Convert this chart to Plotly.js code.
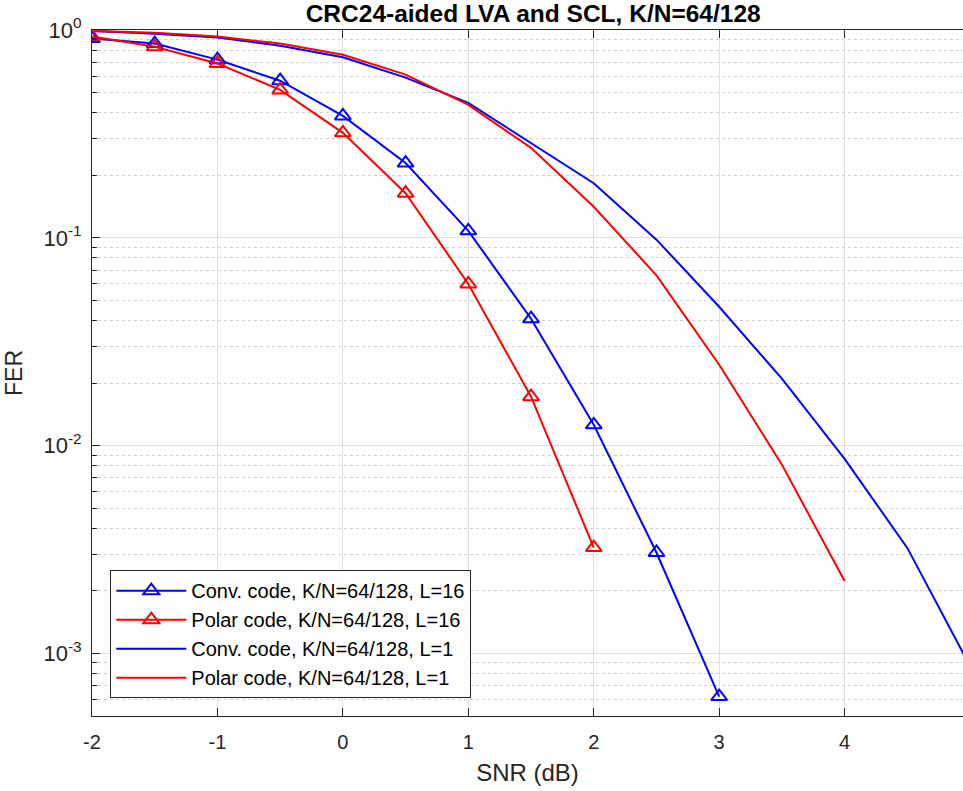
<!DOCTYPE html>
<html>
<head>
<meta charset="utf-8">
<script src="https://cdn.plot.ly/plotly-3.0.1.min.js"></script>
<style>html,body{margin:0;padding:0;background:#fff;}</style>
</head>
<body>
<div id="chart" style="width:963px;height:791px;"></div>
<script>
const snr = [-2, -1.5, -1, -0.5, 0, 0.5, 1, 1.5, 2, 2.5, 3, 3.5, 4, 4.5, 5];

const convL16 = [0.91, 0.86, 0.72, 0.57, 0.386, 0.229, 0.108, 0.0408, 0.0126, 0.00306, 0.00062];
const polarL16 = [0.93, 0.83, 0.69, 0.515, 0.32, 0.164, 0.060, 0.0172, 0.00323];
const convL1 = [0.99, 0.96, 0.92, 0.84, 0.74, 0.59, 0.446, 0.286, 0.183, 0.098, 0.0466, 0.021, 0.00863, 0.00322, 0.00087];
const polarL1 = [0.99, 0.97, 0.93, 0.86, 0.76, 0.61, 0.436, 0.271, 0.141, 0.066, 0.0245, 0.0081, 0.00223];

const names = [
  'Conv. code, K/N=64/128, L=16',
  'Polar code, K/N=64/128, L=16',
  'Conv. code, K/N=64/128, L=1',
  'Polar code, K/N=64/128, L=1'
];
const yTickVals = [1, 0.1, 0.01, 0.001];
const yTickText = ['10<sup>0</sup>', '10<sup>-1</sup>', '10<sup>-2</sup>', '10<sup>-3</sup>'];
const xTickVals = [-2, -1, 0, 1, 2, 3, 4];
const xTickText = ['-2', '-1', '0', '1', '2', '3', '4'];

// minor log ticks 2..9 in each decade
const minorVals = [];
[0.0001, 0.001, 0.01, 0.1].forEach(function (d) {
  for (let m = 2; m <= 9; m++) minorVals.push(+(m * d).toPrecision(3));
});

const blue = '#0000ff', red = '#ff0000';
const traces = [
  {x: snr.slice(0, convL16.length), y: convL16, name: names[0], mode: 'lines+markers',
   line: {color: blue, width: 2}, marker: {symbol: 'triangle-up-open', size: 14, color: blue, line: {width: 2, color: blue}}},
  {x: snr.slice(0, polarL16.length), y: polarL16, name: names[1], mode: 'lines+markers',
   line: {color: red, width: 2}, marker: {symbol: 'triangle-up-open', size: 14, color: red, line: {width: 2, color: red}}},
  {x: snr.slice(0, convL1.length), y: convL1, name: names[2], mode: 'lines',
   line: {color: blue, width: 2}},
  {x: snr.slice(0, polarL1.length), y: polarL1, name: names[3], mode: 'lines',
   line: {color: red, width: 2}}
];

const fontFam = 'Liberation Sans, Arial, Helvetica, sans-serif';
const layout = {
  width: 963, height: 791,
  margin: {l: 92, r: 0, t: 30, b: 75},
  paper_bgcolor: '#fff', plot_bgcolor: '#fff',
  font: {family: fontFam, size: 20, color: '#262626'},
  title: {text: '<b>CRC24-aided LVA and SCL, K/N=64/128</b>', xref: 'paper', x: 0.5065, xanchor: 'center',
          yref: 'container', y: 0.9835, yanchor: 'middle',
          font: {family: fontFam, size: 24.5, color: '#000'}},
  showlegend: true,
  legend: {x: 0.021, y: 0.026, xanchor: 'left', yanchor: 'bottom', bgcolor: '#fff', bordercolor: '#262626', borderwidth: 1,
           font: {family: fontFam, size: 20, color: '#000'}, itemwidth: 70, tracegroupgap: 0},
  xaxis: {
    range: [-2, 4.944], tickvals: xTickVals, ticktext: xTickText,
    showgrid: true, gridcolor: '#dfdfdf', gridwidth: 1,
    zeroline: false, showline: true, linecolor: '#262626', linewidth: 1, mirror: 'ticks',
    ticks: 'inside', ticklen: 8, tickcolor: '#262626', ticklabelstandoff: 8,
    title: {text: 'SNR (dB)', font: {family: fontFam, size: 24, color: '#262626'}, standoff: 12},
    tickfont: {family: fontFam, size: 20, color: '#262626'}
  },
  yaxis: {
    type: 'log', range: [Math.log10(5e-4), 0],
    tickvals: yTickVals, ticktext: yTickText,
    showgrid: true, gridcolor: '#dfdfdf', gridwidth: 1,
    zeroline: false, showline: true, linecolor: '#262626', linewidth: 1, mirror: false,
    ticks: 'inside', ticklen: 8, tickcolor: '#262626', ticklabelstandoff: 5,
    minor: {tickvals: minorVals, showgrid: true, gridcolor: '#cfcfcf', griddash: 'dot', gridwidth: 1, ticks: 'inside', ticklen: 5, tickcolor: '#262626'},
    title: {text: 'FER', font: {family: fontFam, size: 23, color: '#262626'}, standoff: 14},
    tickfont: {family: fontFam, size: 22, color: '#262626'}
  }
};

Plotly.newPlot('chart', traces, layout, {displayModeBar: false, staticPlot: true});
</script>
</body>
</html>
